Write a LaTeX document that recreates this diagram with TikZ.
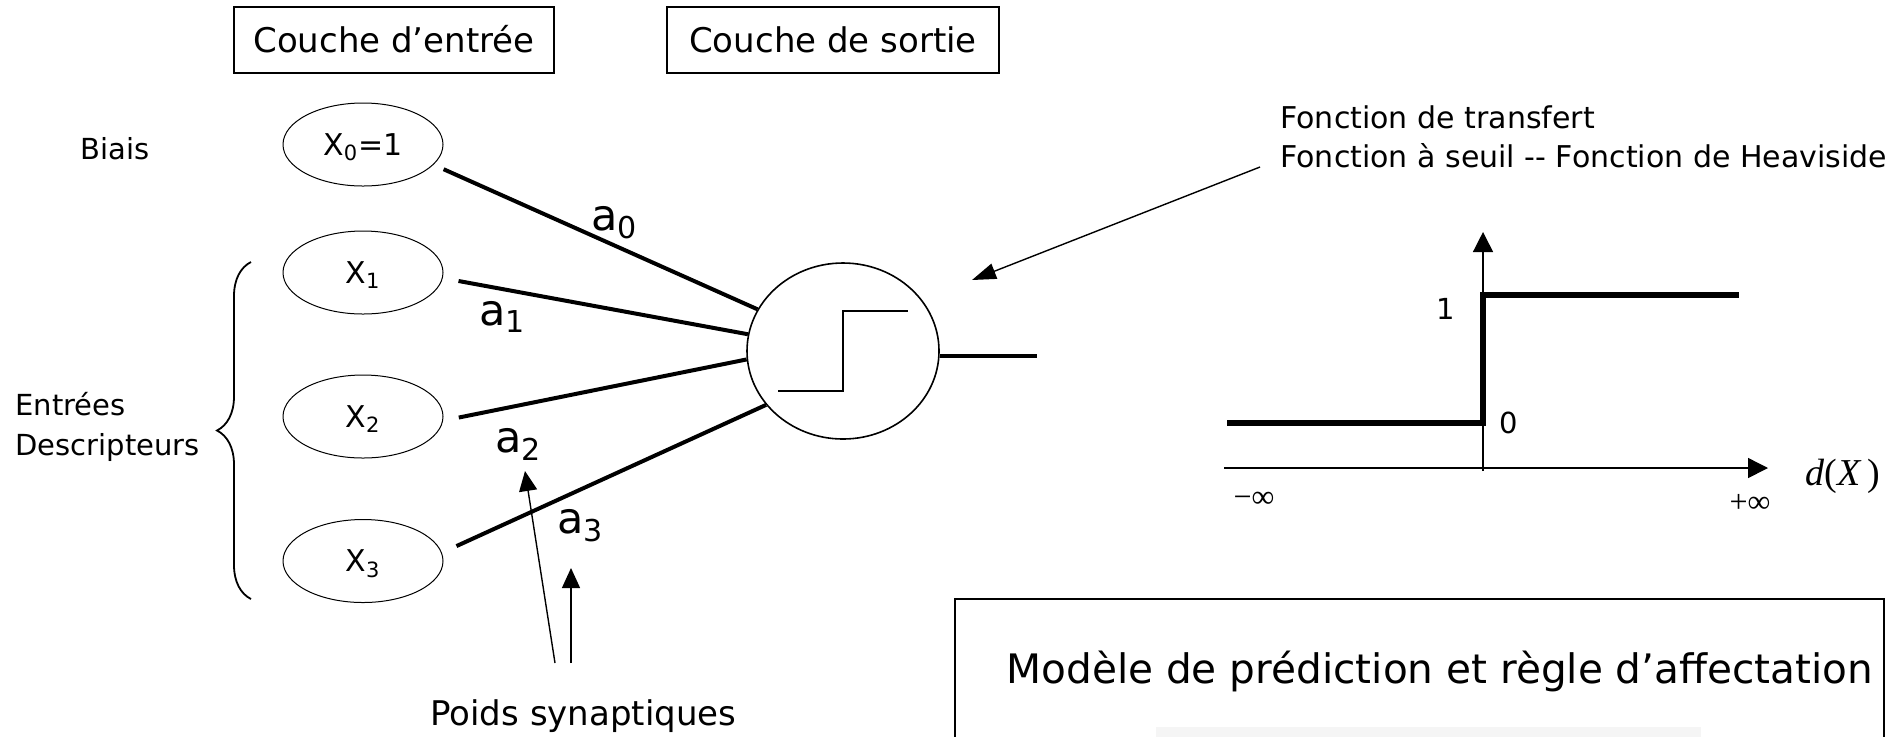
\documentclass[tikz,border=0pt]{standalone}
\usepackage{fontspec}
\setmainfont{DejaVu Sans}
\newfontfamily\timesfont{Liberation Serif}
\usetikzlibrary{shapes.geometric,arrows.meta,decorations.pathreplacing,calc}

\begin{document}
\begin{tikzpicture}[x=0.5pt,y=-0.5pt,
  txt/.style={inner sep=0pt, font=\fontsize{14.5pt}{17pt}\selectfont},
  layerbox/.style={draw, line width=0.9pt, minimum width=#1, minimum height=33pt,
    inner sep=0pt, text height=12.5pt, text depth=0pt,
    font=\fontsize{17pt}{20pt}\selectfont},
  unit/.style={ellipse, draw, line width=0.5pt, minimum width=80pt, minimum height=41.5pt,
    inner sep=0pt, text height=10.5pt, text depth=0pt,
    font=\fontsize{15pt}{17pt}\selectfont},
  neuron/.style={ellipse, draw, line width=0.8pt, minimum width=96pt, minimum height=88pt, inner sep=0pt},
  wire/.style={line width=2pt},
  weight/.style={inner sep=0pt, anchor=base west, font=\fontsize{21.5pt}{24pt}\selectfont},
  pointer/.style={line width=0.7pt, -{Triangle[length=10pt,width=9pt]}},
  axis/.style={line width=0.7pt, -{Triangle[length=10pt,width=10pt]}},
  stepcurve/.style={line width=2.6pt},
  mathlbl/.style={inner sep=0pt, font=\timesfont\fontsize{16pt}{18pt}\selectfont}
]

\useasboundingbox (0,0) rectangle (1898,736);
\clip (0,0) rectangle (1898,736);

% layer headers
\node[layerbox=160pt] (inLayer) at (394,40) {Couche d’entrée};
\node[layerbox=166pt] (outLayer) at (833,40) {Couche de sortie};

% input units
\node[unit] (X0) at (363,144.5) {X\textsubscript{0}=1};
\node[unit] (X1) at (363,272.5) {X\textsubscript{1}};
\node[unit] (X2) at (363,416.5) {X\textsubscript{2}};
\node[unit] (X3) at (363,561) {X\textsubscript{3}};

% side labels
\node[txt, anchor=base west] (biais) at (80,159) {Biais};
\node[txt, anchor=base west] (entrees) at (15,415) {Entrées};
\node[txt, anchor=base west] (descr) at (15,455) {Descripteurs};
\coordinate (brBot) at (251,599);
\coordinate (brTop) at (251,262);
\draw[line width=0.9pt, decorate, decoration={brace, amplitude=17pt}] (brBot) -- (brTop);

% output neuron with its threshold symbol
\node[neuron] (N) at (843,351) {};
\draw[line width=0.75pt] ($(N)+(-65,40)$) -- ($(N)+(0,40)$) -- ($(N)+(0,-40)$) -- ($(N)+(65,-40)$);
\coordinate (outEnd) at (1037,356);
\draw[wire] (N.-3) -- (N.-3 -| outEnd);

% synaptic connections
\draw[wire, shorten <=5.5pt] (X0.-16) -- (N.154);
\draw[wire, shorten <=8pt] (X1.-4) -- (N.170);
\draw[wire, shorten <=8pt] (X2.-3) -- (N.185);
\draw[wire, shorten <=8pt] (X3.6) -- (N.215);

\node[weight] (a0) at (591,230) {a\textsubscript{0}};
\node[weight] (a1) at (479,325) {a\textsubscript{1}};
\node[weight] (a2) at (495,452) {a\textsubscript{2}};
\node[weight] (a3) at (557,533) {a\textsubscript{3}};

% synaptic weights caption
\node[inner sep=0pt, anchor=base west, font=\fontsize{17pt}{20pt}\selectfont] (poids) at (430,725) {Poids synaptiques};
\coordinate (pwA) at (555,663);
\coordinate (pwAtip) at (525,471);
\coordinate (pwB) at (571,663);
\coordinate (pwBtip) at (571,568);
\draw[pointer] (pwA) -- (pwAtip);
\draw[pointer] (pwB) -- (pwBtip);

% transfer function caption
\node[txt, anchor=base west, font=\fontsize{15pt}{17pt}\selectfont] (tf1) at (1280,128) {Fonction de transfert};
\node[txt, anchor=base west, font=\fontsize{15pt}{17pt}\selectfont] (tf2) at (1280,167) {Fonction à seuil -\kern0pt- Fonction de Heaviside};
\coordinate (tfFoot) at (1260,167);
\coordinate (tfTip) at (972,280);
\draw[line width=0.7pt, -{Triangle[length=12pt,width=8pt]}] (tfFoot) -- (tfTip);

% Heaviside step plot
\coordinate (hxL) at (1224,468);
\coordinate (hxR) at (1768,468);
\coordinate (hyB) at (1483,471);
\coordinate (hyT) at (1483,232);
\draw[axis] (hxL) -- (hxR);
\draw[axis] (hyB) -- (hyT);
\draw[stepcurve] (1227,423) -- (1483,423) -- (1483,295) -- (1739,295);
\node[txt, anchor=base] (one) at (1446,319) {1};
\node[txt, anchor=base] (zero) at (1509,433) {0};
\node[mathlbl] (minf) at (1254,500) {−∞};
\node[mathlbl] (pinf) at (1750,503) {+∞};
\node[mathlbl, font=\timesfont\fontsize{19pt}{21pt}\selectfont] (dX) at (1843,476) {\textit{d}(\textit{X}\,)};

% prediction model panel
\draw[line width=0.8pt] (955,599) rectangle (1884,800);
\fill[black!4] (1156,727) rectangle (1701,800);
\node[inner sep=0pt, anchor=base west, font=\fontsize{20.3pt}{24pt}\selectfont] (model) at (1006,683)
  {Modèle de prédiction et règle d’affectation};

\end{tikzpicture}
\end{document}
